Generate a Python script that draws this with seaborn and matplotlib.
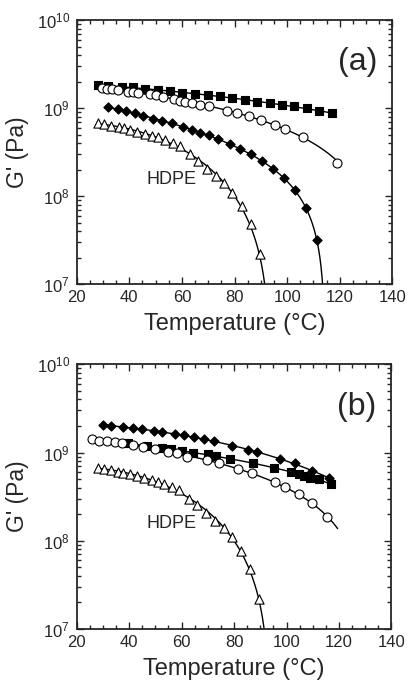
import numpy as np
import pandas as pd
import seaborn as sns
import matplotlib.pyplot as plt
from matplotlib.ticker import MultipleLocator, LogLocator, NullFormatter

# HDPE (open triangles), same in both panels
hdpe_T = [28.2, 30.5, 33.1, 35.9, 37.8, 40.4, 43.1, 45.8, 48.6, 50.9, 53.4,
          56.5, 59.2, 63.0, 66.0, 69.4, 72.8, 76.0, 79.2, 82.7, 86.2, 89.6]
hdpe_G = [6.73e8, 6.55e8, 6.34e8, 6.05e8, 5.90e8, 5.66e8, 5.42e8, 5.09e8, 4.88e8, 4.67e8, 4.40e8,
          4.03e8, 3.76e8, 3.01e8, 2.54e8, 2.05e8, 1.69e8, 1.41e8, 1.09e8, 7.7e7, 4.8e7, 2.2e7]

# panel (a)
a_sq_T = [28.2, 32.0, 37.1, 41.5, 46.0, 50.8, 55.5, 60.2, 65.0, 69.8, 74.5, 79.2, 84.0, 88.7,
          93.5, 97.9, 102.6, 107.5, 112.2, 117.0]
a_sq_G = [1.83e9, 1.78e9, 1.75e9, 1.72e9, 1.66e9, 1.60e9, 1.56e9, 1.50e9, 1.45e9, 1.41e9, 1.37e9,
          1.30e9, 1.24e9, 1.18e9, 1.13e9, 1.08e9, 1.06e9, 0.995e9, 0.93e9, 0.87e9]
a_ci_T = [29.5, 31.4, 33.3, 35.8, 39.6, 41.5, 43.4, 47.9, 50.0, 52.9, 57.1, 59.3, 61.2, 64.0,
          66.9, 70.3, 77.0, 81.1, 85.5, 90.1, 95.4, 99.2, 105.9, 119.1]
a_ci_G = [1.68e9, 1.65e9, 1.63e9, 1.60e9, 1.53e9, 1.52e9, 1.50e9, 1.45e9, 1.40e9, 1.35e9, 1.28e9,
          1.21e9, 1.18e9, 1.13e9, 1.08e9, 1.06e9, 0.93e9, 0.89e9, 0.82e9, 0.73e9, 0.65e9, 0.574e9,
          0.473e9, 0.24e9]
a_di_T = [32.0, 35.6, 38.6, 42.2, 45.3, 49.1, 52.5, 56.3, 60.5, 64.0, 66.9, 70.3, 73.8, 78.1,
          82.1, 86.3, 90.3, 94.5, 98.6, 103.0, 107.2, 111.3]
a_di_G = [1.02e9, 0.968e9, 0.927e9, 0.873e9, 0.82e9, 0.759e9, 0.714e9, 0.671e9, 0.615e9, 0.564e9,
          0.521e9, 0.494e9, 0.443e9, 0.394e9, 0.340e9, 0.301e9, 0.251e9, 0.204e9, 0.160e9,
          0.117e9, 0.073e9, 0.0318e9]

# panel (b)
b_di_T = [30.2, 33.1, 37.8, 41.6, 44.8, 49.6, 52.7, 57.3, 60.9, 64.9, 68.5, 72.3, 79.2, 85.4,
          88.6, 97.4, 103.4, 109.7, 116.3]
b_di_G = [2.05e9, 2.01e9, 1.96e9, 1.88e9, 1.83e9, 1.75e9, 1.71e9, 1.62e9, 1.57e9, 1.49e9, 1.42e9,
          1.34e9, 1.20e9, 1.07e9, 1.01e9, 0.85e9, 0.755e9, 0.62e9, 0.51e9]
b_sq_T = [39.7, 46.7, 52.7, 56.0, 60.1, 64.5, 70.0, 73.1, 78.3, 87.3, 95.4, 101.7, 104.6, 106.8,
          109.1, 112.2, 117.0]
b_sq_G = [1.27e9, 1.19e9, 1.12e9, 1.09e9, 1.03e9, 1.00e9, 0.96e9, 0.91e9, 0.85e9, 0.76e9, 0.66e9,
          0.605e9, 0.57e9, 0.546e9, 0.518e9, 0.50e9, 0.44e9]
b_ci_T = [26.0, 28.5, 31.5, 34.6, 37.2, 41.4, 45.4, 49.9, 55.0, 58.2, 62.0, 69.6, 74.1, 81.4,
          86.8, 95.6, 99.5, 104.6, 109.7, 115.5]
b_ci_G = [1.41e9, 1.36e9, 1.34e9, 1.31e9, 1.27e9, 1.22e9, 1.16e9, 1.10e9, 1.02e9, 0.98e9, 0.90e9,
          0.82e9, 0.755e9, 0.647e9, 0.59e9, 0.467e9, 0.404e9, 0.336e9, 0.265e9, 0.184e9]

sns.set_style("ticks")
plt.rcParams['font.family'] = ['Liberation Sans', 'DejaVu Sans']
plt.rcParams['mathtext.fontset'] = 'custom'
plt.rcParams['mathtext.rm'] = 'Liberation Sans'
plt.rcParams['mathtext.default'] = 'regular'

# (T, G, marker, face, size, fit end)
panels = [
    ('(a)', [(a_sq_T, a_sq_G, 's', 'black', 38, None),
             (a_ci_T, a_ci_G, 'o', 'white', 42, None),
             (a_di_T, a_di_G, 'D', 'black', 22, 116),
             (hdpe_T, hdpe_G, '^', 'white', 44, 93)]),
    ('(b)', [(b_di_T, b_di_G, 'D', 'black', 22, 118.5),
             (b_sq_T, b_sq_G, 's', 'black', 38, 118.5),
             (b_ci_T, b_ci_G, 'o', 'white', 42, 119.5),
             (hdpe_T, hdpe_G, '^', 'white', 44, 93)]),
]

fig = plt.figure(figsize=(4.09, 6.8), dpi=100)
boxes = [[0.1875, 0.5819, 0.772, 0.3887], [0.1875, 0.0750, 0.7695, 0.3893]]

for box, (tag, series) in zip(boxes, panels):
    ax = fig.add_axes(box)
    for T, G, mk, face, sz, tend in series:
        T = np.array(T)
        G = np.array(G)
        coef = np.polyfit(T, G, 3)
        t1 = T[-1] if tend is None else tend
        tt = np.linspace(T[0], t1, 400)
        gg = np.polyval(coef, tt)
        keep = gg > 5e6
        fit = pd.DataFrame({'T': tt[keep], 'G': gg[keep]})
        sns.lineplot(data=fit, x='T', y='G', ax=ax, color='black', lw=1.0,
                     sort=False, estimator=None, zorder=2)
        pts = pd.DataFrame({'T': T, 'G': G})
        sns.scatterplot(data=pts, x='T', y='G', ax=ax, marker=mk, color=face,
                        edgecolor='black', linewidth=0.8, s=sz, zorder=3)
    ax.set_yscale('log')
    ax.set_xlim(20, 140)
    ax.set_ylim(1e7, 1e10)
    ax.set_yticks([1e7, 1e8, 1e9, 1e10],
                  labels=['10$^{7}$', '10$^{8}$', '10$^{9}$', '10$^{10}$'])
    ax.yaxis.set_minor_locator(LogLocator(base=10, subs=np.arange(2, 10)))
    ax.yaxis.set_minor_formatter(NullFormatter())
    ax.xaxis.set_major_locator(MultipleLocator(20))
    ax.xaxis.set_minor_locator(MultipleLocator(5))
    ax.tick_params(which='both', direction='in', top=True, right=True, labelsize=12,
                   width=1.0)
    ax.tick_params(axis='x', which='major', pad=4)
    ax.tick_params(axis='y', which='major', pad=5)
    ax.tick_params(which='major', length=5)
    ax.tick_params(which='minor', length=3)
    for sp in ax.spines.values():
        sp.set_linewidth(1.3)
    ax.set_xlabel('Temperature (°C)', fontsize=17)
    ax.set_ylabel("G' (Pa)", fontsize=16.5)
    ax.xaxis.set_label_coords(0.5, -0.11)
    ax.yaxis.set_label_coords(-0.15, 0.5)
    ax.text(0.89, 0.84, tag, transform=ax.transAxes, fontsize=23, ha='center', va='center')
    ax.text(56, 1.55e8, 'HDPE', fontsize=13, ha='center', va='center')

fig.savefig('out.png', dpi=100)
